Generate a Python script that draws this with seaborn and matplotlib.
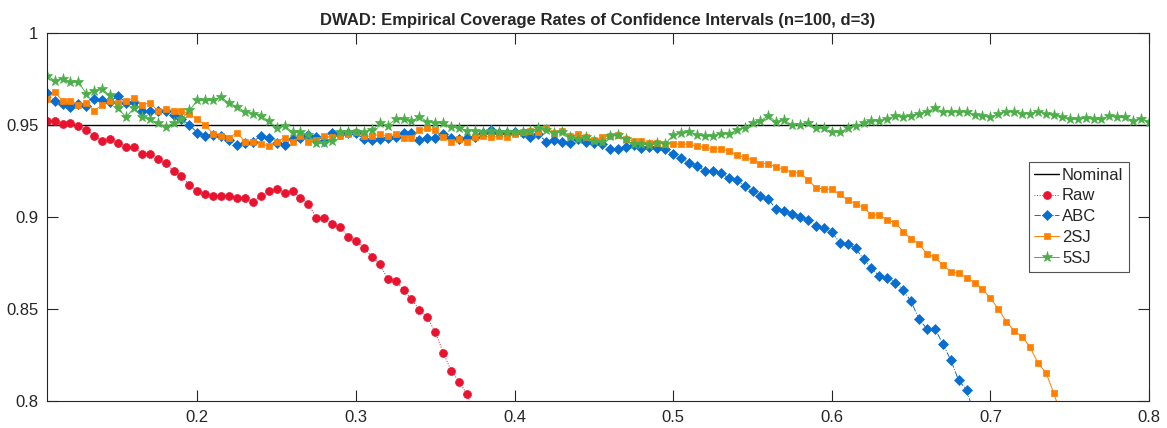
import numpy as np
import pandas as pd
import matplotlib
matplotlib.use("Agg")
import matplotlib.pyplot as plt
import seaborn as sns

# ----------------------------
# Data
# ----------------------------
x_grid = np.round(np.linspace(0.105, 0.8, 140), 3)
nominal = 0.95

raw = [0.9524, 0.9524, 0.9505, 0.9512, 0.9494, 0.9474, 0.9443, 0.9412, 0.9425, 0.9403,
       0.9383, 0.9383, 0.9343, 0.9343, 0.9314, 0.9292, 0.9252, 0.9223, 0.9174, 0.9142,
       0.9124, 0.9113, 0.9113, 0.9113, 0.9102, 0.9102, 0.9084, 0.9113, 0.9142, 0.9153,
       0.9133, 0.9142, 0.9102, 0.9073, 0.8993, 0.8993, 0.8962, 0.8944, 0.8893, 0.8871,
       0.8833, 0.8784, 0.8743, 0.8663, 0.8652, 0.8603, 0.8553, 0.8494, 0.8453, 0.8373,
       0.8262, 0.8163, 0.8104, 0.8036, 0.7930]

abc = [0.9673, 0.9631, 0.9613, 0.9597, 0.9613, 0.9604, 0.9641, 0.9635, 0.9628, 0.9660,
       0.9622, 0.9628, 0.9579, 0.9579, 0.9579, 0.9579, 0.9555, 0.9533, 0.9501, 0.9459,
       0.9441, 0.9448, 0.9441, 0.9419, 0.9392, 0.9405, 0.9410, 0.9441, 0.9432, 0.9405,
       0.9392, 0.9423, 0.9428, 0.9446, 0.9437, 0.9415, 0.9456, 0.9450, 0.9456, 0.9459,
       0.9423, 0.9419, 0.9423, 0.9428, 0.9434, 0.9456, 0.9456, 0.9419, 0.9428, 0.9432,
       0.9450, 0.9428, 0.9423, 0.9432, 0.9437, 0.9456, 0.9474, 0.9456, 0.9456, 0.9464,
       0.9456, 0.9437, 0.9450, 0.9410, 0.9419, 0.9410, 0.9405, 0.9423, 0.9410, 0.9405,
       0.9396, 0.9369, 0.9369, 0.9383, 0.9392, 0.9377, 0.9383, 0.9377, 0.9369, 0.9341,
       0.9320, 0.9292, 0.9279, 0.9251, 0.9251, 0.9241, 0.9211, 0.9202, 0.9169, 0.9142,
       0.9112, 0.9097, 0.9042, 0.9033, 0.9017, 0.9002, 0.8984, 0.8951, 0.8939, 0.8917,
       0.8861, 0.8852, 0.8830, 0.8770, 0.8721, 0.8679, 0.8670, 0.8643, 0.8603, 0.8540,
       0.8444, 0.8391, 0.8391, 0.8309, 0.8221, 0.8110, 0.8059, 0.7920]

sj2 = [0.9641, 0.9682, 0.9631, 0.9631, 0.9610, 0.9619, 0.9579, 0.9610, 0.9631, 0.9622,
       0.9631, 0.9649, 0.9610, 0.9622, 0.9579, 0.9588, 0.9579, 0.9579, 0.9561, 0.9532,
       0.9501, 0.9450, 0.9441, 0.9432, 0.9459, 0.9410, 0.9410, 0.9397, 0.9388, 0.9410,
       0.9432, 0.9410, 0.9439, 0.9410, 0.9421, 0.9441, 0.9434, 0.9441, 0.9450, 0.9460,
       0.9439, 0.9441, 0.9450, 0.9441, 0.9450, 0.9432, 0.9432, 0.9471, 0.9483, 0.9471,
       0.9435, 0.9410, 0.9423, 0.9410, 0.9433, 0.9441, 0.9434, 0.9439, 0.9434, 0.9450,
       0.9461, 0.9468, 0.9465, 0.9483, 0.9456, 0.9467, 0.9441, 0.9451, 0.9434, 0.9421,
       0.9433, 0.9441, 0.9444, 0.9427, 0.9412, 0.9412, 0.9403, 0.9405, 0.9399, 0.9397,
       0.9397, 0.9397, 0.9385, 0.9380, 0.9371, 0.9371, 0.9359, 0.9339, 0.9324, 0.9312,
       0.9291, 0.9290, 0.9270, 0.9261, 0.9241, 0.9241, 0.9202, 0.9160, 0.9151, 0.9151,
       0.9124, 0.9093, 0.9073, 0.9052, 0.9011, 0.9011, 0.8984, 0.8969, 0.8920, 0.8881,
       0.8852, 0.8799, 0.8781, 0.8739, 0.8703, 0.8694, 0.8670, 0.8643, 0.8609, 0.8558,
       0.8500, 0.8431, 0.8380, 0.8349, 0.8292, 0.8204, 0.8153, 0.8040, 0.7910]

sj5 = [0.9769, 0.9743, 0.9751, 0.9733, 0.9733, 0.9672, 0.9686, 0.9695, 0.9662, 0.9592,
       0.9543, 0.9592, 0.9543, 0.9532, 0.9510, 0.9492, 0.9510, 0.9533, 0.9580, 0.9635,
       0.9635, 0.9635, 0.9653, 0.9620, 0.9600, 0.9572, 0.9562, 0.9551, 0.9521, 0.9487,
       0.9495, 0.9463, 0.9463, 0.9446, 0.9401, 0.9401, 0.9415, 0.9461, 0.9461, 0.9465,
       0.9465, 0.9472, 0.9510, 0.9498, 0.9532, 0.9532, 0.9521, 0.9546, 0.9519, 0.9513,
       0.9510, 0.9490, 0.9483, 0.9470, 0.9470, 0.9460, 0.9470, 0.9460, 0.9461, 0.9461,
       0.9464, 0.9470, 0.9484, 0.9474, 0.9458, 0.9464, 0.9437, 0.9426, 0.9433, 0.9413,
       0.9406, 0.9439, 0.9446, 0.9423, 0.9395, 0.9395, 0.9394, 0.9401, 0.9399, 0.9445,
       0.9456, 0.9460, 0.9448, 0.9439, 0.9441, 0.9452, 0.9452, 0.9472, 0.9487, 0.9509,
       0.9523, 0.9552, 0.9516, 0.9526, 0.9501, 0.9501, 0.9513, 0.9483, 0.9483, 0.9460,
       0.9461, 0.9483, 0.9494, 0.9513, 0.9523, 0.9523, 0.9532, 0.9550, 0.9542, 0.9551,
       0.9562, 0.9572, 0.9592, 0.9572, 0.9572, 0.9572, 0.9572, 0.9554, 0.9551, 0.9542,
       0.9562, 0.9573, 0.9572, 0.9562, 0.9563, 0.9573, 0.9562, 0.9554, 0.9542, 0.9532,
       0.9532, 0.9539, 0.9532, 0.9532, 0.9551, 0.9542, 0.9542, 0.9524, 0.9532, 0.9519]

x_ticks = [0.2, 0.3, 0.4, 0.5, 0.6, 0.7, 0.8]
y_ticks = [0.8, 0.85, 0.9, 0.95, 1.0]
y_tick_labels = ["0.8", "0.85", "0.9", "0.95", "1"]

# ----------------------------
# Style
# ----------------------------
sns.set_style("white")
plt.rcParams["font.family"] = ["Liberation Sans", "DejaVu Sans"]
axis_gray = "#262626"

fig = plt.figure(figsize=(11.67, 4.28), dpi=100)
ax = fig.add_axes([0.040, 0.0638, 0.9446, 0.8584])

series = [
    ("Raw", raw, "#E8132F", "o", ":", 5.7),
    ("ABC", abc, "#0A6ED1", "D", "-.", 4.8),
    ("2SJ", sj2, "#FF8000", "s", "-", 4.7),
    ("5SJ", sj5, "#4DAF4A", "*", "-", 8.0),
]

ax.axhline(nominal, color="black", lw=1.0, label="Nominal", zorder=1)

for name, vals, color, marker, ls, ms in series:
    df = pd.DataFrame({"x": x_grid[:len(vals)], "y": vals})
    sns.lineplot(data=df, x="x", y="y", ax=ax, label=name, color=color,
                 marker=marker, linestyle=ls, linewidth=0.7, markersize=ms,
                 markeredgecolor=color, markeredgewidth=0.5,
                 estimator=None, sort=False, zorder=2)

ax.set_xlim(0.105, 0.8)
ax.set_ylim(0.8, 1.0)
ax.set_xticks(x_ticks)
ax.set_xticklabels([f"{t:g}" for t in x_ticks])
ax.set_yticks(y_ticks)
ax.set_yticklabels(y_tick_labels)
ax.set_xlabel("")
ax.set_ylabel("")

ax.tick_params(direction="in", length=8, width=0.8, color=axis_gray,
               labelcolor=axis_gray, labelsize=12, top=True, right=True,
               bottom=True, left=True)
ax.tick_params(axis="x", pad=7)
ax.tick_params(axis="y", pad=6)
for sp in ax.spines.values():
    sp.set_visible(True)
    sp.set_color(axis_gray)
    sp.set_linewidth(0.8)

ax.set_title("DWAD: Empirical Coverage Rates of Confidence Intervals (n=100, d=3)",
             fontsize=12, fontweight="bold", pad=6)

leg = ax.legend(loc="upper right", bbox_to_anchor=(0.982, 0.6505), fontsize=12,
                frameon=True, fancybox=False, edgecolor=axis_gray,
                borderpad=0.35, labelspacing=0.35, handlelength=1.5,
                handletextpad=0.15, borderaxespad=0)
leg.get_frame().set_linewidth(0.8)

plt.savefig("out.png", dpi=100)
